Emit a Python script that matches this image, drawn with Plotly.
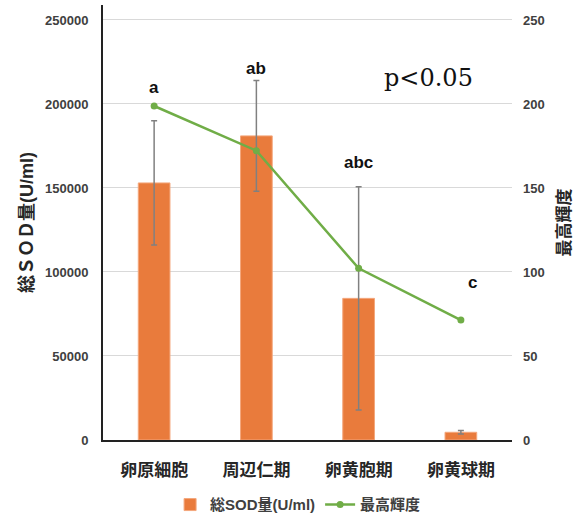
import plotly.graph_objects as go

# Developmental stages of the oocyte
stages = ["卵原細胞", "周辺仁期", "卵黄胞期", "卵黄球期"]

# Total SOD activity (U/ml) with standard deviation
sod_total = [153000, 181000, 84300, 4600]
sod_sd = [37000, 33000, 66500, 1000]

# Maximum luminance
max_luminance = [198.8, 172.2, 102.2, 71.4]

# Significance letters shown above each stage
sig_letters = ["a", "ab", "abc", "c"]

left_ticks = [0, 50000, 100000, 150000, 200000, 250000]
left_ticktext = ["0", "50000", "100000", "150000", "200000", "250000"]
right_ticks = [0, 50, 100, 150, 200, 250]
right_ticktext = ["0", "50", "100", "150", "200", "250"]

FONT = "Liberation Sans, Noto Sans CJK JP, Arial, sans-serif"
ORANGE = "#E97B3C"
GREEN = "#70AD47"

fig = go.Figure()

fig.add_trace(go.Bar(
    x=stages,
    y=sod_total,
    name="総SOD量(U/ml)",
    width=0.31,
    marker=dict(color=ORANGE, line=dict(color="#F4A77C", width=1)),
    error_y=dict(type="data", array=sod_sd, visible=True,
                 color="#808080", thickness=1.5, width=3),
    yaxis="y",
))

fig.add_trace(go.Scatter(
    x=stages,
    y=max_luminance,
    name="最高輝度",
    mode="lines+markers",
    line=dict(color=GREEN, width=2.5),
    marker=dict(color=GREEN, size=7),
    yaxis="y2",
))

# Significance letters placed above the bars
letter_y = [210000, 221000, 165000, 94000]
letter_shift = [0, 0, 0, 12]
for st, lab, yy, xs in zip(stages, sig_letters, letter_y, letter_shift):
    fig.add_annotation(x=st, y=yy, xref="x", yref="y", text=lab,
                       showarrow=False, xshift=xs,
                       font=dict(family=FONT, size=17, color="#111111", weight="bold"))

fig.add_annotation(x=0.797, y=0.832, xref="paper", yref="paper",
                   xanchor="center", yanchor="middle",
                   text="p<0.05", showarrow=False,
                   font=dict(family="DejaVu Serif, Liberation Serif, serif", size=24, color="#111111"))

tick_font = dict(family=FONT, size=13, color="#404040", weight="bold")

fig.update_layout(
    width=585, height=515,
    margin=dict(l=103, r=73, t=5, b=75, autoexpand=False),
    paper_bgcolor="white",
    plot_bgcolor="white",
    showlegend=True,
    legend=dict(orientation="h", x=0.477, xanchor="center", y=-0.149, yanchor="middle",
                font=dict(family=FONT, size=15, color="#404040", weight="bold"),
                itemwidth=30, bgcolor="rgba(0,0,0,0)"),
    xaxis=dict(
        showline=True, linecolor="#222222", linewidth=2,
        showgrid=False, ticks="",
        tickfont=dict(family=FONT, size=17, color="#262626", weight="bold"),
        ticklabelstandoff=14,
    ),
    yaxis=dict(
        range=[0, 258900],
        tickvals=left_ticks, ticktext=left_ticktext,
        showline=True, linecolor="#222222", linewidth=2,
        showgrid=True, gridcolor="#D9D9D9", gridwidth=1,
        zeroline=False, ticks="",
        tickfont=tick_font,
        ticklabelstandoff=10,
        title=dict(text="総ＳＯＤ量(U/ml)", standoff=7,
                   font=dict(family=FONT, size=18, color="#262626", weight="bold")),
    ),
    yaxis2=dict(
        range=[0, 258.9],
        tickvals=right_ticks, ticktext=right_ticktext,
        overlaying="y", side="right",
        showline=False, showgrid=False, zeroline=False, ticks="",
        tickfont=tick_font,
        ticklabelstandoff=10,
        title=dict(text="最高輝度", standoff=14,
                   font=dict(family=FONT, size=17, color="#262626", weight="bold")),
    ),
)

fig.write_html("out.html")
